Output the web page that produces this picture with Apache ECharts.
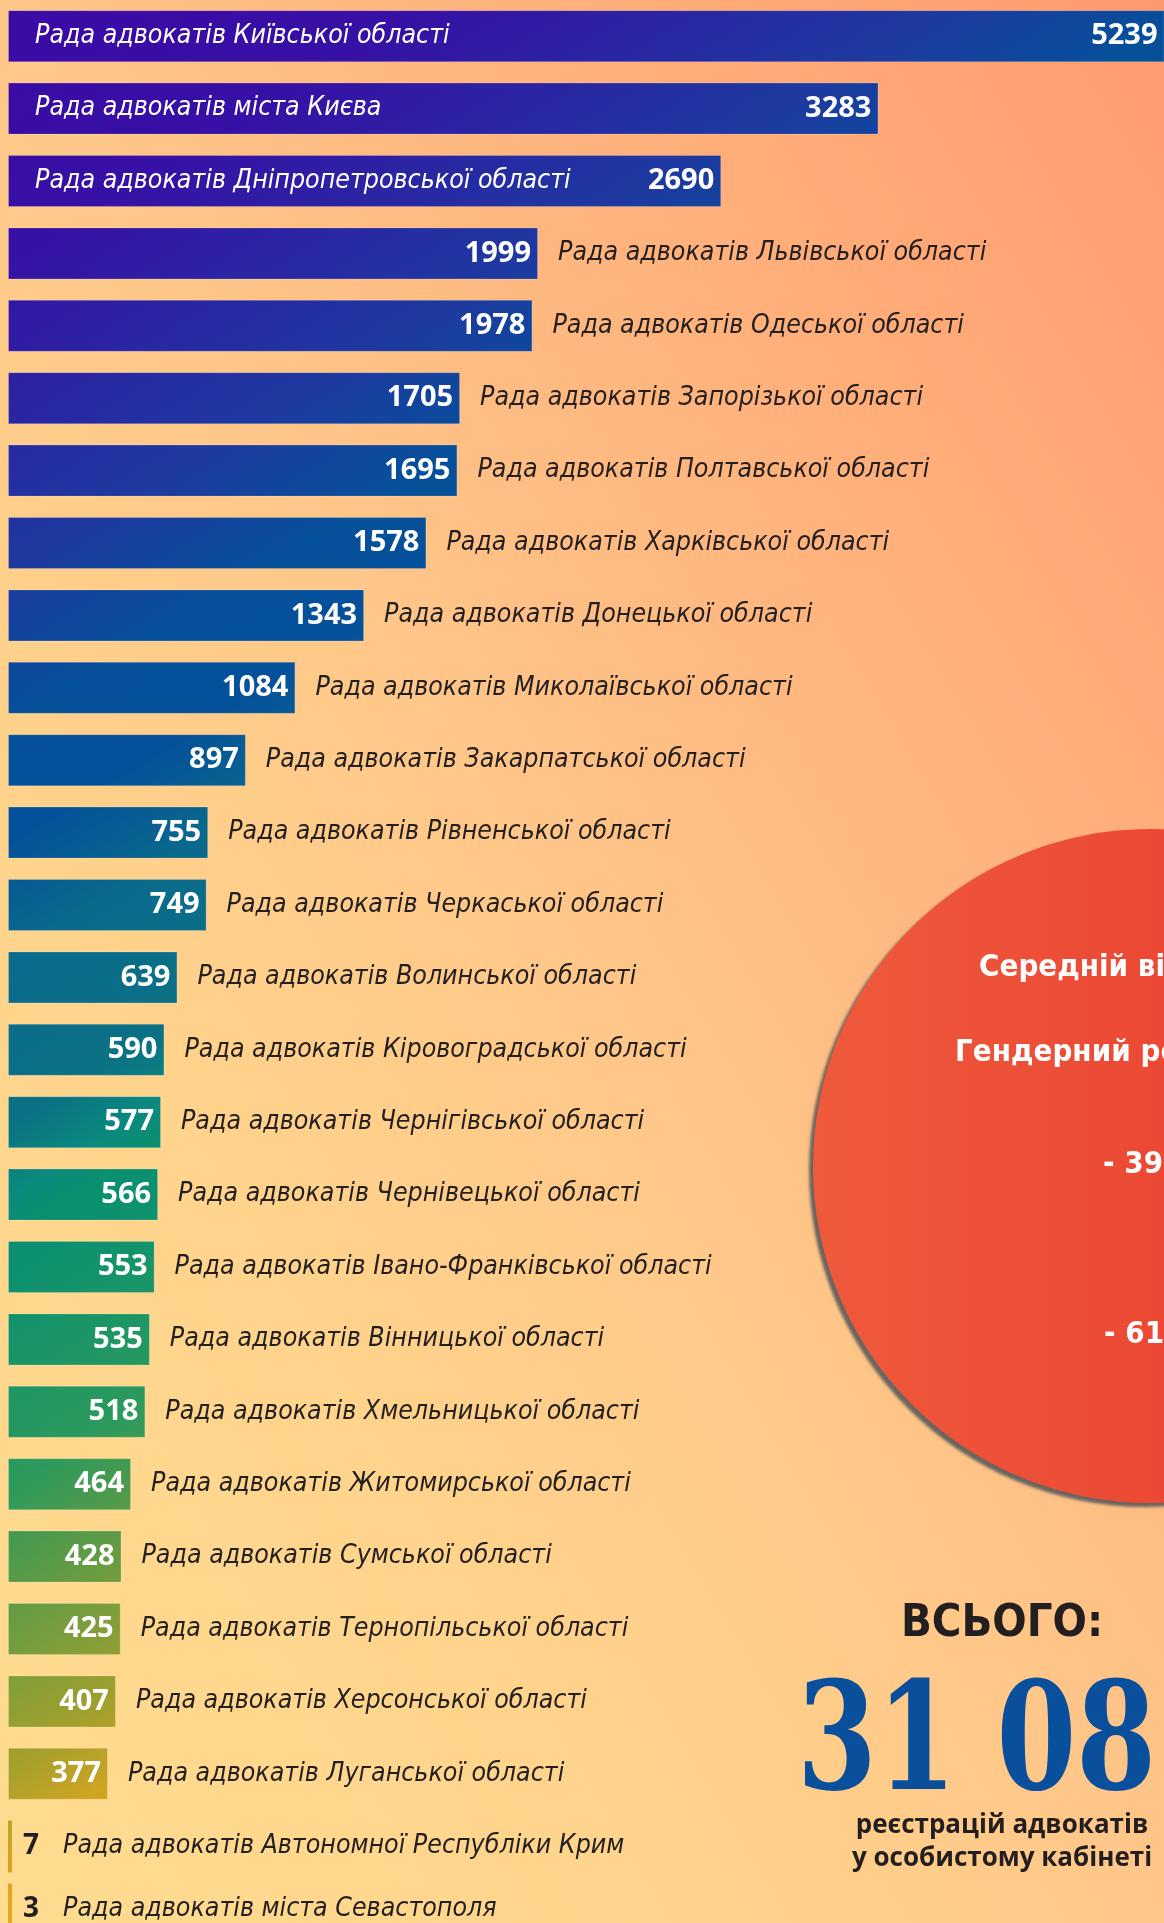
<!DOCTYPE html>
<html>
<head>
<meta charset="utf-8">
<script src="https://cdn.jsdelivr.net/npm/echarts@6/dist/echarts.min.js"></script>
<style>
  html, body { margin: 0; padding: 0; }
  #chart {
    width: 1164px;
    height: 1923px;
    background: linear-gradient(to bottom left, #ff9a6f 0%, #ffb47d 30%, #ffc789 50%, #ffd48c 72%, #ffdc90 100%);
  }
</style>
</head>
<body>
<div id="chart"></div>
<script>
// councils sorted by registrations
const councils = [
  "Рада адвокатів Київської області",
  "Рада адвокатів міста Києва",
  "Рада адвокатів Дніпропетровської області",
  "Рада адвокатів Львівської області",
  "Рада адвокатів Одеської області",
  "Рада адвокатів Запорізької області",
  "Рада адвокатів Полтавської області",
  "Рада адвокатів Харківської області",
  "Рада адвокатів Донецької області",
  "Рада адвокатів Миколаївської області",
  "Рада адвокатів Закарпатської області",
  "Рада адвокатів Рівненської області",
  "Рада адвокатів Черкаської області",
  "Рада адвокатів Волинської області",
  "Рада адвокатів Кіровоградської області",
  "Рада адвокатів Чернігівської області",
  "Рада адвокатів Чернівецької області",
  "Рада адвокатів Івано-Франківської області",
  "Рада адвокатів Вінницької області",
  "Рада адвокатів Хмельницької області",
  "Рада адвокатів Житомирської області",
  "Рада адвокатів Сумської області",
  "Рада адвокатів Тернопільської області",
  "Рада адвокатів Херсонської області",
  "Рада адвокатів Луганської області"
];
const counts = [5239, 3283, 2690, 1999, 1978, 1705, 1695, 1578, 1343, 1084, 897, 755, 749,
  639, 590, 577, 566, 553, 535, 518, 464, 428, 425, 407, 377];

const smallCouncils = [
  "Рада адвокатів Автономної Республіки Крим",
  "Рада адвокатів міста Севастополя"
];
const smallCounts = [7, 3];

const totalLabel = "ВСЬОГО:";
const totalValue = "31 085";
const totalCaption = ["реєстрацій адвокатів", "у особистому кабінеті"];
const circleLines = ["Середній вік", "Гендерний розподіл", "- 39%", "- 61%"];

const namesInside = 3; // the longest bars carry their name inside

var chartDom = document.getElementById("chart");
var mychart = echarts.init(chartDom);

var nameFont = '"Liberation Sans Narrow", "DejaVu Sans Condensed", sans-serif';
var numFont = '"Open Sans", "Noto Sans", sans-serif';

// one diagonal gradient shared by all bars
var barFill = {
  type: "linear", x: 0, y: 0, x2: 856, y2: 1426, global: true,
  colorStops: [
    { offset: 0, color: "#3c0aa5" },
    { offset: 0.134, color: "#3710a5" },
    { offset: 0.299, color: "#1d3aa0" },
    { offset: 0.376, color: "#06509a" },
    { offset: 0.433, color: "#05509a" },
    { offset: 0.497, color: "#0a6a8c" },
    { offset: 0.581, color: "#0b7184" },
    { offset: 0.619, color: "#0b8a7e" },
    { offset: 0.637, color: "#0a8f70" },
    { offset: 0.655, color: "#0b9070" },
    { offset: 0.769, color: "#2c9a5c" },
    { offset: 0.802, color: "#4a9a4e" },
    { offset: 0.918, color: "#a8a02a" },
    { offset: 0.955, color: "#d0a423" },
    { offset: 1, color: "#f0a81c" }
  ]
};

var xMax = 4360;

var nameData = counts.map((v, i) =>
  i < namesInside
    ? { value: v, label: { position: "insideLeft", distance: 27, color: "#ffffff" } }
    : v
);

var option = {
  animation: false,
  grid: [
    { left: 8, right: 0, top: 0, height: 1810, outerBoundsMode: "none" },
    { left: 8, right: 0, top: 1815, height: 126, outerBoundsMode: "none" }
  ],
  xAxis: [
    { gridIndex: 0, type: "value", min: 0, max: xMax, show: false },
    { gridIndex: 1, type: "value", min: 0, max: xMax, show: false }
  ],
  yAxis: [
    { gridIndex: 0, type: "category", data: councils, inverse: true, show: false },
    { gridIndex: 1, type: "category", data: smallCouncils, inverse: true, show: false }
  ],
  series: [
    {
      type: "bar",
      xAxisIndex: 0,
      yAxisIndex: 0,
      data: counts,
      barWidth: 52,
      itemStyle: { color: barFill, borderColor: "rgba(255,255,255,0.18)", borderWidth: 1 },
      label: {
        show: true,
        position: "insideRight",
        distance: 7,
        color: "#ffffff",
        fontFamily: numFont,
        fontWeight: "bold",
        fontSize: 29
      }
    },
    {
      type: "bar",
      xAxisIndex: 0,
      yAxisIndex: 0,
      data: nameData,
      barWidth: 52,
      barGap: "-100%",
      silent: true,
      itemStyle: { color: "rgba(0,0,0,0)" },
      label: {
        show: true,
        position: "right",
        distance: 20,
        formatter: (p) => p.name,
        color: "#231f20",
        fontFamily: nameFont,
        fontStyle: "italic",
        fontSize: 26.5
      }
    },
    {
      type: "bar",
      xAxisIndex: 1,
      yAxisIndex: 1,
      data: smallCounts,
      barWidth: 52,
      barMinHeight: 4,
      itemStyle: { color: barFill },
      label: {
        show: true,
        position: "right",
        distance: 11,
        formatter: (p) => "{v|" + p.value + "}{n|" + p.name + "}",
        rich: {
          v: { color: "#231f20", fontFamily: numFont, fontWeight: "bold", fontSize: 28, width: 40 },
          n: { color: "#231f20", fontFamily: nameFont, fontStyle: "italic", fontSize: 26.5 }
        }
      }
    }
  ],
  graphic: [
    {
      type: "circle",
      shape: { cx: 1150, cy: 1166, r: 337 },
      z: 0,
      style: {
        fill: {
          type: "linear", x: 0, y: 0, x2: 1, y2: 0,
          colorStops: [
            { offset: 0, color: "#ef5a3b" },
            { offset: 1, color: "#e8392f" }
          ]
        },
        shadowColor: "rgba(90,90,90,0.9)",
        shadowBlur: 3,
        shadowOffsetX: -4,
        shadowOffsetY: 4
      }
    },
    {
      type: "text", x: 979, y: 968, z: 1,
      style: { text: circleLines[0], fill: "#ffffff", font: 'bold 31px ' + nameFont, verticalAlign: "middle" }
    },
    {
      type: "text", x: 955, y: 1053, z: 1,
      style: { text: circleLines[1], fill: "#ffffff", font: 'bold 31px ' + nameFont, verticalAlign: "middle" }
    },
    {
      type: "text", x: 1103, y: 1165, z: 1,
      style: { text: circleLines[2], fill: "#ffffff", font: 'bold 31px ' + nameFont, verticalAlign: "middle" }
    },
    {
      type: "text", x: 1104, y: 1335, z: 1,
      style: { text: circleLines[3], fill: "#ffffff", font: 'bold 31px ' + nameFont, verticalAlign: "middle" }
    },
    {
      type: "text", x: 1002, y: 1624, z: 1,
      style: { text: totalLabel, fill: "#231f20", font: 'bold 45px ' + nameFont, align: "center", verticalAlign: "middle" }
    },
    {
      type: "text", x: 797, y: 1825, z: 1, scaleX: 0.85,
      style: { text: totalValue, fill: "#0a4f9c", font: 'bold 150px "DejaVu Serif Condensed", "DejaVu Serif", serif', verticalAlign: "bottom" }
    },
    {
      type: "text", x: 1002, y: 1826, z: 1,
      style: { text: totalCaption[0], fill: "#231f20", font: 'bold 26px ' + numFont, align: "center", verticalAlign: "middle" }
    },
    {
      type: "text", x: 1002, y: 1859, z: 1,
      style: { text: totalCaption[1], fill: "#231f20", font: 'bold 26px ' + numFont, align: "center", verticalAlign: "middle" }
    }
  ]
};

mychart.setOption(option);
</script>
</body>
</html>
